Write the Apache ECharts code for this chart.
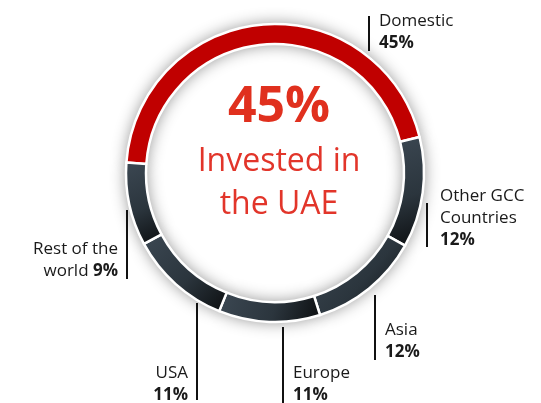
<!DOCTYPE html>
<html lang="en">
<head>
    <meta charset="UTF-8">
    <title>Investment split</title>
</head>
<body style="margin:0;background:#fff">
<div id="box" style="width:541px;height:403px"></div>
<script src="https://cdn.jsdelivr.net/npm/echarts@6/dist/echarts.min.js"></script>
<script type="text/javascript">
    // data
    let regions = ['Domestic', 'Other GCC\nCountries', 'Asia', 'Europe', 'USA', 'Rest of the\nworld'];
    let shares = [45, 12, 12, 11, 11, 9];

    // where each label sits, and its vertical leader line
    let labelSpots = [
        {x: 379, y: 10, align: 'left', lx: 369, ly1: 16, ly2: 51},
        {x: 440, y: 185, align: 'left', lx: 427, ly1: 203, ly2: 247},
        {x: 385, y: 319, align: 'left', lx: 375, ly1: 295, ly2: 360},
        {x: 293, y: 362, align: 'left', lx: 283, ly1: 327, ly2: 403},
        {x: 188, y: 362, align: 'right', lx: 197, ly1: 303, ly2: 400},
        {x: 118, y: 238, align: 'right', lx: 127, ly1: 210, ly2: 279, inline: true}
    ];

    let dark = new echarts.graphic.LinearGradient(0, 0, 1, 1, [
        {offset: 0, color: '#3c4853'},
        {offset: 0.55, color: '#2b353d'},
        {offset: 1, color: '#0b0d0f'}
    ]);
    let colors = ['#c00000', dark, dark, dark, dark, dark];

    let chart = echarts.init(document.getElementById('box'));
    let center = [275, 173];
    let radius = [129, 149];

    chart.setOption({
        animation: false,
        title: {
            left: 274,
            top: 71,
            textAlign: 'center',
            text: '{a|45%}\n{b|Invested in}\n{b|the UAE}',
            textStyle: {
                fontWeight: 'normal',
                rich: {
                    a: {fontFamily: 'Open Sans', fontSize: 50, fontWeight: 'bold', color: '#e0301e', lineHeight: 64, align: 'center'},
                    b: {fontFamily: 'Open Sans', fontSize: 32, fontWeight: 'normal', color: '#e2352a', lineHeight: 43, align: 'center'}
                }
            }
        },
        series: [
            {
                // soft shadow under the ring
                type: 'pie',
                silent: true,
                center: center,
                radius: radius,
                startAngle: 176,
                z: 1,
                label: {show: false},
                labelLine: {show: false},
                itemStyle: {color: '#fff', shadowBlur: 16, shadowColor: 'rgba(0,0,0,0.45)'},
                data: shares.map((v, i) => ({name: regions[i], value: v}))
            },
            {
                type: 'pie',
                center: center,
                radius: radius,
                startAngle: 176,
                z: 2,
                avoidLabelOverlap: false,
                itemStyle: {borderColor: '#fff', borderWidth: 2.5},
                label: {
                    show: true,
                    position: 'outside',
                    formatter: function (p) {
                        let spot = labelSpots[p.dataIndex];
                        let lines = regions[p.dataIndex].split('\n').map(t => '{n|' + t + '}');
                        if (spot.inline) {
                            lines[lines.length - 1] += '{n| }{v|' + p.value + '%}';
                        } else {
                            lines.push('{v|' + p.value + '%}');
                        }
                        return lines.join('\n');
                    },
                    rich: {
                        n: {fontFamily: 'Open Sans', fontSize: 17, color: '#1a1a1a', lineHeight: 22},
                        v: {fontFamily: 'Open Sans', fontSize: 17, fontWeight: 'bold', color: '#1a1a1a', lineHeight: 22}
                    }
                },
                labelLine: {
                    show: true,
                    length: 0,
                    length2: 0,
                    lineStyle: {color: '#111', width: 2}
                },
                labelLayout: function (p) {
                    let s = labelSpots[p.dataIndex];
                    return {
                        x: s.x,
                        y: s.y,
                        align: s.align,
                        verticalAlign: 'top',
                        labelLinePoints: [[s.lx, s.ly1], [s.lx, (s.ly1 + s.ly2) / 2], [s.lx, s.ly2]]
                    };
                },
                emphasis: {disabled: true},
                data: shares.map((v, i) => ({
                    name: regions[i],
                    value: v,
                    itemStyle: {color: colors[i]},
                    label: {align: labelSpots[i].align}
                }))
            }
        ]
    });
</script>
</body>
</html>
